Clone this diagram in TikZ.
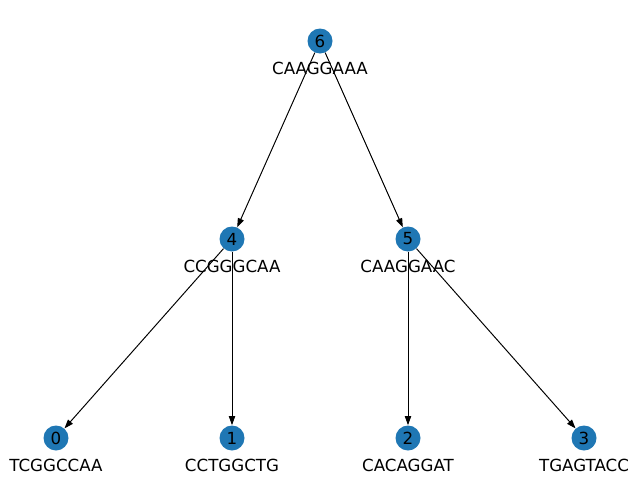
\documentclass[tikz,border=0pt]{standalone}
\usepackage{fontspec}
\setmainfont{DejaVu Sans}
\usetikzlibrary{positioning,arrows.meta}
\definecolor{bleu}{RGB}{31,119,180}

\begin{document}
\begin{tikzpicture}[x=0.72pt, y=-0.72pt,
    sommet/.style={circle, fill=bleu, minimum size=18pt, inner sep=0pt, font=\fontsize{12}{14}\selectfont},
    etiquette/.style={inner sep=0pt, font=\fontsize{12}{14}\selectfont},
    arete/.style={-{Triangle[length=6.5pt,width=4.5pt]}, black, line width=0.7pt}]
    \useasboundingbox (0,0) rectangle (640,480);

    % Sommets
    \node[sommet] (n6) at (320,41) {6};
    \node[sommet] (n4) at (232,239) {4};
    \node[sommet] (n5) at (408,239) {5};
    \node[sommet] (n0) at (56,438) {0};
    \node[sommet] (n1) at (232,438) {1};
    \node[sommet] (n2) at (408,438) {2};
    \node[sommet] (n3) at (584,438) {3};

    % Aretes
    \draw[arete] (n6) -- (n4);
    \draw[arete] (n6) -- (n5);
    \draw[arete] (n4) -- (n0);
    \draw[arete] (n4) -- (n1);
    \draw[arete] (n5) -- (n2);
    \draw[arete] (n5) -- (n3);

    % Sequences
    \node[etiquette] (t6) at (320,68) {CAAGGAAA};
    \node[etiquette] (t4) at (232,266) {CCGGGCAA};
    \node[etiquette] (t5) at (408,266) {CAAGGAAC};
    \node[etiquette] (t0) at (56,465) {TCGGCCAA};
    \node[etiquette] (t1) at (232,465) {CCTGGCTG};
    \node[etiquette] (t2) at (408,465) {CACAGGAT};
    \node[etiquette] (t3) at (584,465) {TGAGTACC};
\end{tikzpicture}
\end{document}
